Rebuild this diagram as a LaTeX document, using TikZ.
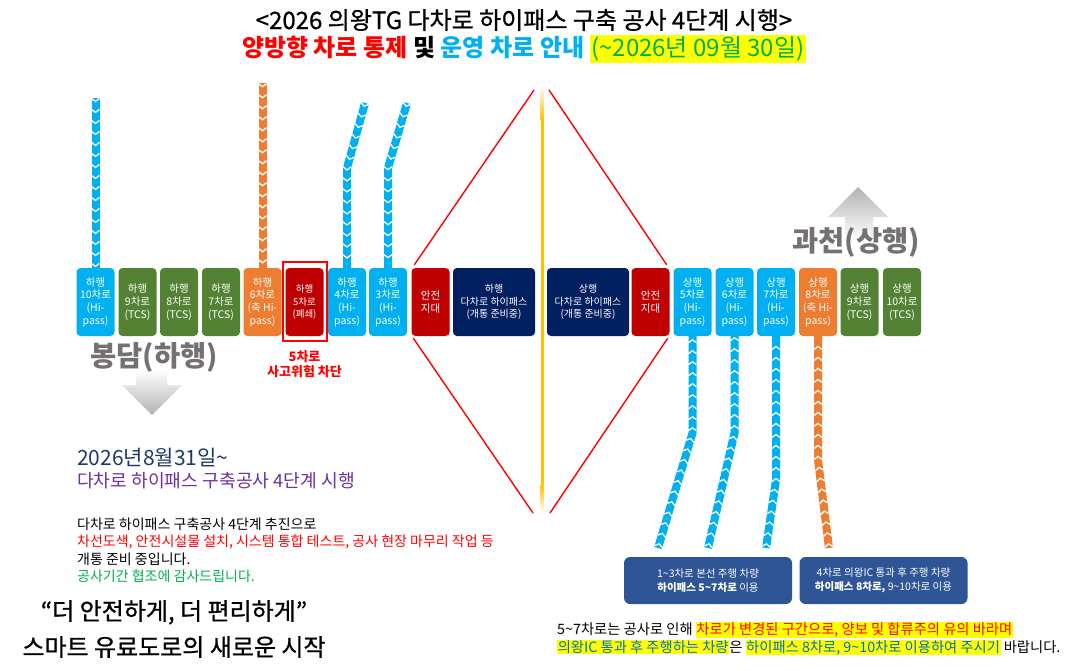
\documentclass[tikz,border=0pt]{standalone}
\usepackage{fontspec}
\setmainfont{Noto Sans CJK KR}
\newfontfamily\medfont[FakeBold=0.8]{Noto Sans CJK KR}
\usetikzlibrary{decorations.markings}
\definecolor{cyanL}{HTML}{00B0F0}
\definecolor{greenL}{HTML}{548235}
\definecolor{orangeL}{HTML}{ED7D31}
\definecolor{redL}{HTML}{C00000}
\definecolor{navyL}{HTML}{002060}
\definecolor{boxblue}{HTML}{2F5597}
\definecolor{textnavy}{HTML}{1F3864}
\definecolor{purpleT}{HTML}{7030A0}
\definecolor{greenT}{HTML}{00B050}
\definecolor{blueT}{HTML}{0070C0}
\definecolor{grayT}{HTML}{767171}
\definecolor{hly}{HTML}{FFFF00}
\definecolor{yline}{HTML}{FFC000}
\definecolor{redT}{HTML}{FF0000}
\newcommand\hlt[2]{{\setlength{\fboxsep}{0.6pt}\colorbox{hly}{\textcolor{#1}{#2}}}}
\newcommand\tld{\textasciitilde}
\newcommand\myfs[1]{\fontsize{#1}{#1}\selectfont}
\begin{document}
\begin{tikzpicture}[x=1pt,y=-1pt,
  lane/.style={rounded corners=4pt, minimum width=38pt, minimum height=68pt, inner sep=0pt,
    text=white, align=center, font=\fontsize{10.5}{12.7}\selectfont},
  widelane/.style={lane, minimum width=82pt, font=\fontsize{10}{12.7}\selectfont},
  infobox/.style={rounded corners=6pt, fill=boxblue, minimum width=168pt, minimum height=47pt,
    inner sep=0pt, text=white, align=center, font=\fontsize{10.5}{13.5}\selectfont},
  txt/.style={anchor=west, inner sep=0pt, align=left},
  chevline/.style={line width=8pt, draw=#1, postaction={decorate},
    decoration={markings, mark=between positions 0.02 and 1 step 11pt with
      {\draw[white, line width=1.3pt] (-3pt,4pt) -- (0pt,0pt) -- (-3pt,-4pt);}}},
  redline/.style={draw=redT, line width=1.4pt}
]
\useasboundingbox (0,0) rectangle (1075,670);
\fill[white] (0,0) rectangle (1075,670);

% title
\node[inner sep=0pt, font=\medfont\myfs{24}] (t1) at (524,20) {<2026 의왕TG 다차로 하이패스 구축 공사 4단계 시행>};
\node[inner sep=0pt, font=\myfs{24}\bfseries] (t2) at (524,49) {\textcolor{redT}{양방향 차로 통제} 및 \textcolor{cyanL}{운영 차로 안내} {\mdseries{\setlength{\fboxsep}{1.5pt}\colorbox{hly}{\textcolor{greenT}{(\tld2026년 09월 30일)}}}}};

% centre yellow line
\shade[top color=white, bottom color=yline] (540.5,85) rectangle (543.5,120);
\fill[yline] (540.5,120) rectangle (543.5,485);
\shade[top color=yline, bottom color=white] (540.5,485) rectangle (543.5,513);

% gray direction arrows
\shade[top color=white, bottom color=black!30] (136,370) -- (167,370) -- (167,385) -- (182,385) -- (152,415) -- (122,385) -- (136,385) -- cycle;
\shade[top color=black!30, bottom color=white] (858,187) -- (888,217) -- (873,217) -- (873,240) -- (845,240) -- (845,217) -- (828,217) -- cycle;
\node[inner sep=0pt, font=\myfs{28.5}\bfseries, text=grayT] (bd) at (154,357) {봉담(하행)};
\node[inner sep=0pt, font=\myfs{28.5}\bfseries, text=grayT] (gc) at (856,242) {과천(상행)};

% left lanes
\node[lane, fill=cyanL] (L10) at (95.5,302) {하행\\10차로\\(Hi-\\pass)};
\node[lane, fill=greenL] (L9) at (137.5,302) {하행\\9차로\\(TCS)};
\node[lane, fill=greenL] (L8) at (179,302) {하행\\8차로\\(TCS)};
\node[lane, fill=greenL] (L7) at (221,302) {하행\\7차로\\(TCS)};
\node[lane, fill=orangeL] (L6) at (262.5,302) {하행\\6차로\\(축 Hi-\\pass)};
\node[lane, fill=redL, font=\fontsize{9.5}{12.5}\selectfont] (L5) at (304.5,302) {하행\\5차로\\(폐쇄)};
\node[draw=redT, line width=1.2pt, minimum width=44pt, minimum height=79pt, inner sep=0pt] (f5) at (305,301.5) {};
\node[lane, fill=cyanL] (L4) at (347,302) {하행\\4차로\\(Hi-\\pass)};
\node[lane, fill=cyanL] (L3) at (388,302) {하행\\3차로\\(Hi-\\pass)};
\node[lane, fill=redL] (LS) at (430.5,302) {안전\\지대};
\node[widelane, fill=navyL] (LN) at (494,302) {하행\\다차로 하이패스\\(개통 준비중)};

% right lanes
\node[widelane, fill=navyL] (RN) at (588,302) {상행\\다차로 하이패스\\(개통 준비중)};
\node[lane, fill=redL] (RS) at (650.5,302) {안전\\지대};
\node[lane, fill=cyanL] (R5) at (692.5,302) {상행\\5차로\\(Hi-\\pass)};
\node[lane, fill=cyanL] (R6) at (734.5,302) {상행\\6차로\\(Hi-\\pass)};
\node[lane, fill=cyanL] (R7) at (776,302) {상행\\7차로\\(Hi-\\pass)};
\node[lane, fill=orangeL] (R8) at (818,302) {상행\\8차로\\(축 Hi-\\pass)};
\node[lane, fill=greenL] (R9) at (859.5,302) {상행\\9차로\\(TCS)};
\node[lane, fill=greenL] (R10) at (902,302) {상행\\10차로\\(TCS)};

\node[inner sep=0pt, align=center, text=redT, font=\fontsize{13}{15}\selectfont\bfseries] (blk) at (304.5,364) {5차로\\사고위험 차단};

% red guide lines
\coordinate (apexL) at (534,90);
\coordinate (apexR) at (549,90);
\coordinate (botL) at (533,513);
\coordinate (botR) at (550,513);
\draw[redline] ([shift={(3pt,3pt)}]LS.north west) -- (apexL);
\draw[redline] ([shift={(-3pt,3pt)}]RS.north east) -- (apexR);
\draw[redline] ([shift={(2pt,-2pt)}]LS.south west) -- (botL);
\draw[redline] ([shift={(-2pt,-2pt)}]RS.south east) -- (botR);

% left traffic arrows
\coordinate (a10) at (95.5,98);
\coordinate (a6) at (262.5,83);
\coordinate (a4s) at (365,103);
\coordinate (a4m) at (347,168);
\coordinate (a3s) at (407,103);
\coordinate (a3m) at (388,168);
\draw[chevline=cyanL] (a10) -- (L10.north);
\draw[chevline=orangeL] (a6) -- (L6.north);
\draw[chevline=cyanL] (a4s) -- (a4m) -- (L4.north);
\draw[chevline=cyanL] (a3s) -- (a3m) -- (L3.north);

% bottom info boxes
\node[infobox] (B1) at (708,580.5) {1\tld3차로 본선 주행 차량\\\textbf{하이패스 5\tld7차로} 이용};
\node[infobox] (B2) at (883.5,580.5) {4차로 의왕IC 통과 후 주행 차량\\\textbf{하이패스 8차로,} 9\tld10차로 이용};

% right traffic arrows
\coordinate (r5s) at (658,548);
\coordinate (r5m) at (692.5,433);
\coordinate (r6s) at (708,548);
\coordinate (r6m) at (734.5,433);
\coordinate (r7s) at (766,548);
\coordinate (r7m) at (776,480);
\coordinate (r8s) at (829,548);
\coordinate (r8m) at (818,460);
\draw[chevline=cyanL] (r5s) -- (r5m) -- (R5.south);
\draw[chevline=cyanL] (r6s) -- (r6m) -- (R6.south);
\draw[chevline=cyanL] (r7s) -- (r7m) -- (R7.south);
\draw[chevline=orangeL] (r8s) -- (r8m) -- (R8.south);

% left text block
\node[txt, font=\myfs{21}, text=textnavy] (d1) at (77,458) {2026년8월31일\tld};
\node[txt, font=\myfs{18.2}, text=purpleT] (d2) at (77,481) {다차로 하이패스 구축공사 4단계 시행};
\node[txt, font=\myfs{14}] (p1) at (77,524) {다차로 하이패스 구축공사 4단계 추진으로};
\node[txt, font=\myfs{14}, text=redT] (p2) at (77,541.5) {차선도색, 안전시설물 설치, 시스템 통합 테스트, 공사 현장 마무리 작업 등};
\node[txt, font=\myfs{14}] (p3) at (77,559) {개통 준비 중입니다.};
\node[txt, font=\myfs{14}, text=greenT] (p4) at (77,576.5) {공사기간 협조에 감사드립니다.};

% slogan
\node[inner sep=0pt, align=center, font=\medfont\fontsize{24}{36}\selectfont] (slg) at (174,629) {“더 안전하게, 더 편리하게”\\스마트 유료도로의 새로운 시작};

% bottom right notice
\node[txt, font=\myfs{14.3}] (n1) at (557,630) {5\tld7차로는 공사로 인해 \hlt{redT}{차로가 변경된 구간으로, 양보 및 합류주의 유의 바라며}};
\node[txt, font=\myfs{14.3}] (n2) at (557,647.5) {\hlt{blueT}{의왕IC 통과 후 주행하는 차량}은 \hlt{blueT}{하이패스 8차로, 9\tld10차로 이용하여 주시기} 바랍니다.};
\end{tikzpicture}
\end{document}
